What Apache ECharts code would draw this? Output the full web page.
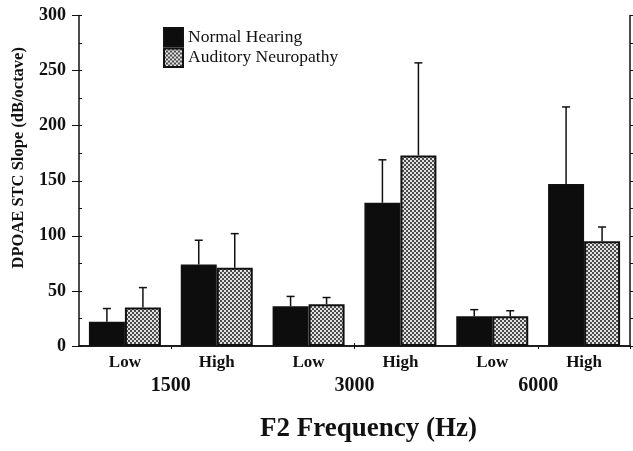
<!DOCTYPE html>
<html><head><meta charset="utf-8">
<script src="https://cdn.jsdelivr.net/npm/echarts@6/dist/echarts.min.js"></script>
<style>html,body{margin:0;padding:0;background:#fff}#c{width:633px;height:451px}</style>
</head><body><div id="c"></div>
<script>
const categories = ['Low','High','Low','High','Low','High'];
const frequencies = ['1500','3000','6000'];
const normalMean = [22, 74, 36, 130, 27, 147];
const normalTop = [34, 96, 45, 169, 33, 217];
const neuroMean = [35, 71, 38, 173, 27, 95];
const neuroTop = [53, 102, 44, 257, 32, 108];
const seriesNames = ['Normal Hearing','Auditory Neuropathy'];

const pc = document.createElement('canvas');
pc.width = 4; pc.height = 4;
const pctx = pc.getContext('2d');
pctx.fillStyle = '#e2e2e2'; pctx.fillRect(0,0,4,4);
pctx.fillStyle = '#4c4c4c'; pctx.fillRect(0,0,2,2); pctx.fillRect(2,2,2,2);
const pattern = {image: pc, repeat: 'repeat'};

const serif = '"Liberation Serif","Times New Roman",serif';
const BW = 36;

function errItem(offset){
  return function(params, api){
    const i = api.value(0);
    const b = api.coord([i, api.value(1)]);
    const t = api.coord([i, api.value(2)]);
    const x = b[0] + offset;
    return {type:'group', children:[
      {type:'line', shape:{x1:x, y1:b[1], x2:x, y2:t[1]}, style:{stroke:'#111', lineWidth:1.5}},
      {type:'line', shape:{x1:x-4, y1:t[1], x2:x+4, y2:t[1]}, style:{stroke:'#111', lineWidth:1.5}}
    ]};
  };
}

const chart = echarts.init(document.getElementById('c'));
chart.setOption({
  animation:false,
  grid:{left:79, right:3, top:15.5, bottom:105},
  legend:{
    data: [
      {name:seriesNames[0], textStyle:{padding:[11,0,0,0]}},
      {name:seriesNames[1], textStyle:{padding:[3,0,0,0]}}
    ],
    orient:'vertical', left:163, top:27, itemGap:0, padding:0,
    itemWidth:19, itemHeight:18.5,
    textStyle:{fontFamily:serif, fontSize:17.5, color:'#111'},
    icon:'rect'
  },
  xAxis:[
    {type:'category', data:categories, position:'bottom',
     axisLine:{lineStyle:{color:'#111', width:1.5}},
     axisTick:{show:true, length:3, lineStyle:{color:'#111'}, interval:function(i){return i%2===1;}},
     axisLabel:{fontFamily:serif, fontWeight:'bold', fontSize:17, color:'#111', margin:8}},
    {type:'category', data:frequencies, position:'bottom',
     axisLine:{show:false}, axisTick:{show:false},
     axisLabel:{fontFamily:serif, fontWeight:'bold', fontSize:20, color:'#111', margin:30},
     name:'F2 Frequency (Hz)', nameLocation:'middle', nameGap:70,
     nameTextStyle:{fontFamily:serif, fontWeight:'bold', fontSize:27, color:'#111', padding:[0,0,0,28]}},
    {type:'value', position:'top', min:0, max:14,
     axisLine:{show:true, lineStyle:{color:'#111', width:1.5}},
     axisTick:{show:true, length:3, customValues:[3,7,11], lineStyle:{color:'#111'}},
     axisLabel:{show:false}, splitLine:{show:false}}
  ],
  yAxis:[
    {type:'value', min:0, max:300, interval:50,
     axisLine:{show:true, lineStyle:{color:'#111', width:1.5}},
     axisTick:{show:true, length:7, lineStyle:{color:'#111'}},
     axisLabel:{fontFamily:serif, fontWeight:'bold', fontSize:18, color:'#111', margin:13},
     splitLine:{show:false},
     name:'DPOAE STC Slope (dB/octave)', nameLocation:'middle', nameGap:52,
     nameTextStyle:{fontFamily:serif, fontWeight:'bold', fontSize:16.5, color:'#111', padding:[0,0,0,46]}},
    {type:'value', min:0, max:300, interval:25, position:'left',
     axisLine:{show:false}, axisTick:{show:true, inside:true, length:3, lineStyle:{color:'#111'}},
     axisLabel:{show:false}, splitLine:{show:false}},
    {type:'value', min:0, max:300, interval:25, position:'right',
     axisLine:{show:true, lineStyle:{color:'#111', width:1.5}},
     axisTick:{show:true, length:3, lineStyle:{color:'#111'}},
     axisLabel:{show:false}, splitLine:{show:false}}
  ],
  series:[
    {name:seriesNames[0], type:'bar', data:normalMean, barWidth:BW, barGap:'0%',
     itemStyle:{color:'#0d0d0d', borderColor:'#111', borderWidth:1.5}},
    {name:seriesNames[1], type:'bar', data:neuroMean, barWidth:BW, barGap:'0%',
     itemStyle:{color:pattern, borderColor:'#111', borderWidth:2}},
    {type:'custom', name:'errN', renderItem:errItem(-BW/2), z:5,
     data:normalMean.map((v,i)=>[i, v, normalTop[i]])},
    {type:'custom', name:'errA', renderItem:errItem(BW/2), z:5,
     data:neuroMean.map((v,i)=>[i, v, neuroTop[i]])}
  ]
});
</script></body></html>
